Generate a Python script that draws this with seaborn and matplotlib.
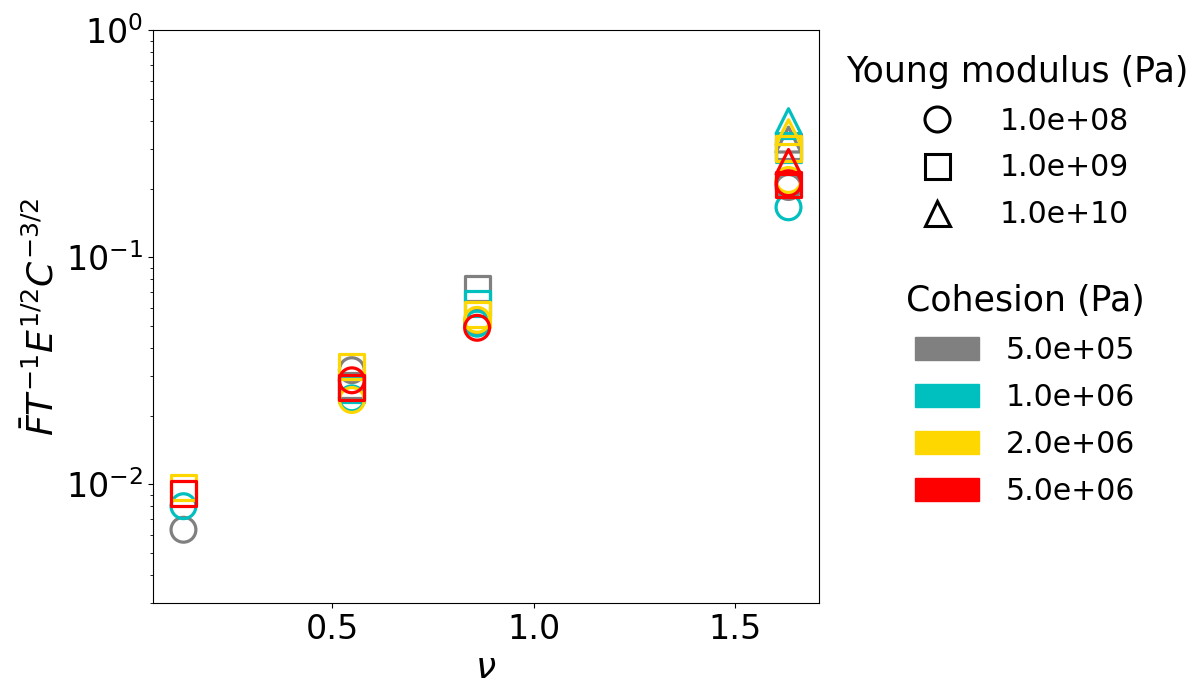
import numpy as np
import pandas as pd
import seaborn as sns
import matplotlib.pyplot as plt
from matplotlib.lines import Line2D
from matplotlib.patches import Patch
from matplotlib.ticker import MultipleLocator

nan = np.nan

# valores de nu (eje x)
nu_values = [0.131, 0.549, 0.860, 1.633]

# niveles de los parámetros
young_labels = ["1.0e+08", "1.0e+09", "1.0e+10"]
cohesion_labels = ["5.0e+05", "1.0e+06", "2.0e+06", "5.0e+06"]
cohesion_colors = ["gray", "c", "gold", "red"]
young_markers = ["o", "s", "^"]

# valor adimensional para cada nu (NaN = sin punto)
c05_E8 = [0.0063, 0.0318, 0.0520, 0.204]
c05_E9 = [nan, 0.0272, 0.0727, 0.307]
c05_E10 = [nan, nan, nan, 0.330]
c1_E8 = [0.0080, 0.0239, 0.0510, 0.166]
c1_E9 = [nan, 0.0262, 0.0623, 0.297]
c1_E10 = [nan, nan, nan, 0.398]
c2_E8 = [nan, 0.0235, 0.0530, 0.219]
c2_E9 = [0.0097, 0.0331, 0.0559, 0.302]
c2_E10 = [nan, nan, nan, 0.356]
c5_E8 = [nan, 0.0287, 0.0489, 0.212]
c5_E9 = [0.0091, 0.0266, nan, 0.210]
c5_E10 = [nan, nan, nan, 0.263]

series = {
    ("5.0e+05", "1.0e+08"): c05_E8, ("5.0e+05", "1.0e+09"): c05_E9, ("5.0e+05", "1.0e+10"): c05_E10,
    ("1.0e+06", "1.0e+08"): c1_E8, ("1.0e+06", "1.0e+09"): c1_E9, ("1.0e+06", "1.0e+10"): c1_E10,
    ("2.0e+06", "1.0e+08"): c2_E8, ("2.0e+06", "1.0e+09"): c2_E9, ("2.0e+06", "1.0e+10"): c2_E10,
    ("5.0e+06", "1.0e+08"): c5_E8, ("5.0e+06", "1.0e+09"): c5_E9, ("5.0e+06", "1.0e+10"): c5_E10,
}

rows = []
for (c, e), vals in series.items():
    for nu, v in zip(nu_values, vals):
        rows.append({"nu": nu, "val": v, "C": c, "E": e})
df = pd.DataFrame(rows).dropna()

plt.rcParams["font.size"] = 22
fig, ax = plt.subplots(figsize=(11.97, 6.89), dpi=100)
fig.subplots_adjust(left=0.128, right=0.684, top=0.956, bottom=0.125)

sns.scatterplot(data=df, x="nu", y="val", hue="C", style="E",
                hue_order=cohesion_labels, style_order=young_labels,
                palette=dict(zip(cohesion_labels, cohesion_colors)),
                markers=dict(zip(young_labels, young_markers)),
                s=320, linewidth=2.3, legend=False, ax=ax)

# marcadores huecos: el color pasa al borde
coll = ax.collections[0]
fc = coll.get_facecolors()
coll.set_edgecolors(fc)
coll.set_facecolors("none")

ax.set_yscale("log")
ax.set_ylim(3e-3, 1)
ax.xaxis.set_major_locator(MultipleLocator(0.5))
ax.set_xlabel(r"$\nu$", fontsize=26)
ax.set_ylabel(r"$\bar{F}T^{-1}E^{1/2}C^{-3/2}$", fontsize=26)
ax.tick_params(labelsize=24)

h1 = [Line2D([], [], marker=m, color="k", mfc="none", ls="", ms=18, mew=2.2)
      for m in young_markers]
leg1 = fig.legend(h1, young_labels, title="Young modulus (Pa)", frameon=False,
                  loc="center", bbox_to_anchor=(1017 / 1197, 1 - 142 / 689),
                  fontsize=21.5, title_fontsize=25, handlelength=2.15, handletextpad=1.0,
                  labelspacing=0.6)

h2 = [Patch(color=col) for col in cohesion_colors]
leg2 = fig.legend(h2, cohesion_labels, title="Cohesion (Pa)", frameon=False,
                  loc="center", bbox_to_anchor=(1025 / 1197, 1 - 395 / 689),
                  fontsize=21.5, title_fontsize=25, handlelength=2.15, handleheight=0.8,
                  handletextpad=0.9, labelspacing=0.6)

fig.savefig("out.png", dpi=100)
